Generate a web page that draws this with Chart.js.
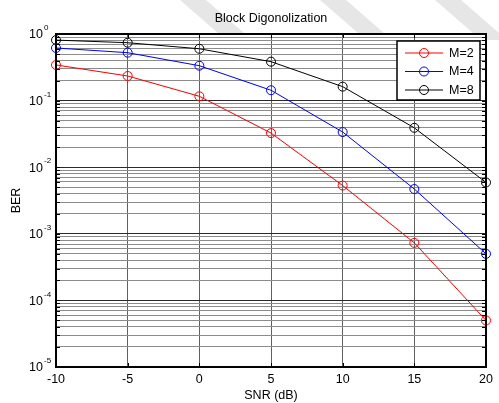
<!DOCTYPE html>
<html>
<head>
<meta charset="utf-8">
<script src="https://cdn.jsdelivr.net/npm/chart.js@4"></script>
<style>
  body { margin: 0; background: #fff; }
  #wrap { width: 499px; height: 403px; }
</style>
</head>
<body>
<div id="wrap"><canvas id="berChart" width="499" height="403"></canvas></div>
<script>
// values
var snr = [-10, -5, 0, 5, 10, 15, 20];
var berM2 = [0.343, 0.234, 0.116, 0.0325, 0.0053, 0.00073, 0.000050];
var berM4 = [0.616, 0.524, 0.334, 0.143, 0.0337, 0.0047, 0.00050];
var berM8 = [0.81, 0.74, 0.60, 0.384, 0.162, 0.039, 0.0059];
var seriesLabels = ['M=2', 'M=4', 'M=8'];
var seriesColors = ['#ff0000', '#0000ff', '#000000'];
var yTickValues = [];
for (var e = -5; e <= 0; e++) {
    for (var m = 1; m <= 9; m++) {
        var v = m * Math.pow(10, e);
        if (v <= 1) yTickValues.push(v);
    }
}

Chart.defaults.font.family = 'Arial, "Liberation Sans", sans-serif';
Chart.defaults.color = '#000';

function isDecade(v) {
    var l = Math.log10(v);
    return Math.abs(l - Math.round(l)) < 1e-9;
}

function makeSet(label, values, color) {
    return {
        label: label,
        data: snr.map(function (x, i) { return { x: x, y: values[i] }; }),
        borderColor: color,
        backgroundColor: 'rgba(0,0,0,0)',
        borderWidth: 1,
        pointRadius: 4.5,
        pointHoverRadius: 4.5,
        pointBorderWidth: 1,
        pointBorderColor: color,
        pointBackgroundColor: 'rgba(0,0,0,0)',
        tension: 0,
        clip: false
    };
}

// faint diagonal watermark bands behind the figure, plus white plot area
var backdrop = {
    id: 'backdrop',
    beforeDraw: function (chart) {
        var ctx = chart.ctx;
        ctx.save();
        ctx.fillStyle = '#e6e6e6';
        [180, 320, 435].forEach(function (x0) {
            ctx.beginPath();
            ctx.moveTo(x0, 0);
            ctx.lineTo(x0 + 26, 0);
            ctx.lineTo(x0 + 72, 40);
            ctx.lineTo(x0 + 46, 40);
            ctx.closePath();
            ctx.fill();
        });
        var a = chart.chartArea;
        ctx.fillStyle = '#fff';
        ctx.fillRect(a.left, a.top, a.right - a.left, a.bottom - a.top);
        ctx.restore();
    }
};

// box, inner ticks, 10^n labels and legend
var decorations = {
    id: 'decorations',
    afterDraw: function (chart) {
        var ctx = chart.ctx;
        var a = chart.chartArea;
        var ys = chart.scales.y, xs = chart.scales.x;
        ctx.save();
        ctx.strokeStyle = '#000';
        ctx.lineWidth = 1;
        ctx.beginPath();
        ys.ticks.forEach(function (t) {
            var py = Math.round(ys.getPixelForValue(t.value)) + 0.5;
            ctx.moveTo(a.left, py); ctx.lineTo(a.left + 4, py);
            ctx.moveTo(a.right, py); ctx.lineTo(a.right - 4, py);
        });
        xs.ticks.forEach(function (t) {
            var px = Math.round(xs.getPixelForValue(t.value)) + 0.5;
            ctx.moveTo(px, a.top); ctx.lineTo(px, a.top + 4);
            ctx.moveTo(px, a.bottom); ctx.lineTo(px, a.bottom - 4);
        });
        ctx.stroke();

        ctx.lineWidth = 2;
        ctx.strokeRect(a.left, a.top, a.right - a.left, a.bottom - a.top);

        // decade labels as 10 with superscript exponent
        ctx.fillStyle = '#000';
        ctx.textBaseline = 'middle';
        ys.ticks.forEach(function (t) {
            if (!isDecade(t.value)) return;
            var py = ys.getPixelForValue(t.value);
            ctx.font = '12.5px Arial, "Liberation Sans", sans-serif';
            ctx.textAlign = 'right';
            ctx.fillText('10', 43, py + 1);
            ctx.font = '8px Arial, "Liberation Sans", sans-serif';
            ctx.textAlign = 'left';
            ctx.fillText(String(Math.round(Math.log10(t.value))), 44, py - 6);
        });

        // legend box in the top right corner
        var lx = 397, ly = 41, lw = 83, lh = 59;
        ctx.fillStyle = '#fff';
        ctx.fillRect(lx, ly, lw, lh);
        ctx.lineWidth = 1.5;
        ctx.strokeStyle = '#000';
        ctx.strokeRect(lx, ly, lw, lh);
        ctx.font = '12.5px Arial, "Liberation Sans", sans-serif';
        ctx.textAlign = 'left';
        chart.data.datasets.forEach(function (ds, i) {
            var ry = 53 + i * 18.5;
            ctx.strokeStyle = ds.borderColor;
            ctx.lineWidth = 1;
            ctx.beginPath();
            ctx.moveTo(405, ry); ctx.lineTo(443, ry);
            ctx.stroke();
            ctx.beginPath();
            ctx.arc(424, ry, 4.5, 0, Math.PI * 2);
            ctx.stroke();
            ctx.fillStyle = '#000';
            ctx.fillText(ds.label, 449, ry + 0.5);
        });
        ctx.restore();
    }
};

var ctx = document.getElementById('berChart').getContext('2d');
var berChart = new Chart(ctx, {
    type: 'line',
    data: {
        datasets: [
            makeSet(seriesLabels[0], berM2, seriesColors[0]),
            makeSet(seriesLabels[1], berM4, seriesColors[1]),
            makeSet(seriesLabels[2], berM8, seriesColors[2])
        ]
    },
    options: {
        responsive: false,
        animation: false,
        layout: { padding: { left: 0, right: 13, top: 0, bottom: 0 } },
        plugins: {
            legend: { display: false },
            tooltip: { enabled: false },
            title: {
                display: true,
                text: 'Block Digonolization',
                fullSize: false,
                color: '#000',
                font: { size: 12.5, weight: 'normal' },
                padding: { top: 11.5, bottom: 7.5 }
            }
        },
        scales: {
            x: {
                type: 'linear',
                min: -10,
                max: 20,
                ticks: { stepSize: 5, padding: 5, font: { size: 12.5 }, color: '#000' },
                grid: { color: '#606060', lineWidth: 1, drawTicks: false },
                border: { display: false },
                title: { display: true, text: 'SNR (dB)', font: { size: 12.5 }, color: '#000', padding: { top: 0, bottom: 0 } },
                afterFit: function (scale) { scale.height = 36; }
            },
            y: {
                type: 'logarithmic',
                min: 1e-5,
                max: 1,
                afterBuildTicks: function (scale) {
                    scale.ticks = yTickValues.map(function (v) { return { value: v }; });
                },
                ticks: { display: false },
                grid: {
                    drawTicks: false,
                    lineWidth: 1,
                    color: function (c) {
                        return c.tick && isDecade(c.tick.value) ? '#2a2a2a' : '#8c8c8c';
                    }
                },
                border: { display: false },
                title: { display: true, text: 'BER', font: { size: 12.5 }, color: '#000', padding: { top: 9, bottom: 0 } },
                afterFit: function (scale) { scale.width = 56; }
            }
        }
    },
    plugins: [backdrop, decorations]
});
</script>
</body>
</html>
